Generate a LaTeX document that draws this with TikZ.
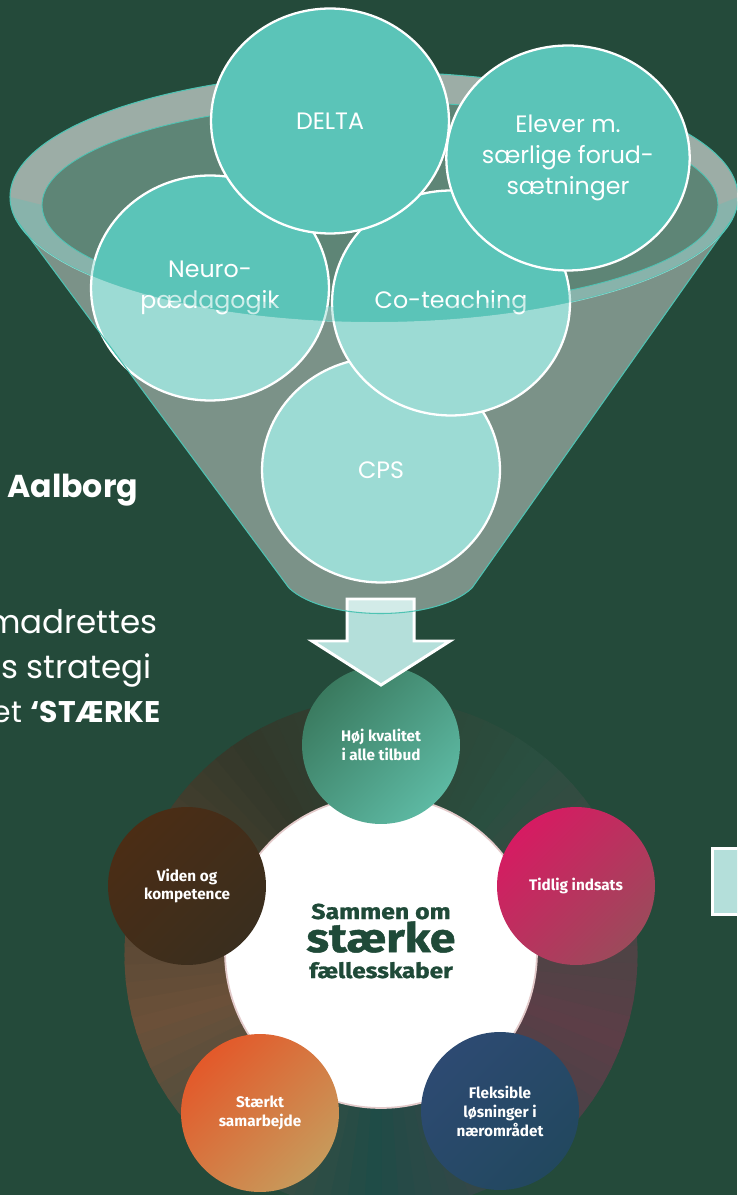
\documentclass[tikz,border=0pt]{standalone}
\usepackage{fontspec}
\setmainfont{Poppins}
\newfontfamily\wheelfont{Fira Sans}
\newfontfamily\hubfont{Fira Sans}[FakeStretch=1.15, BoldFeatures={FakeBold=1.2}]
\usetikzlibrary{shapes.geometric}

\definecolor{bggreen}{HTML}{244A3A}
\definecolor{bubbleteal}{HTML}{5BC4B8}
\definecolor{rimline}{HTML}{4EC3B3}
\definecolor{rimopen}{HTML}{5E8576}
\definecolor{arrowteal}{HTML}{B4DFDA}
\definecolor{hubtext}{HTML}{1F4A38}
\definecolor{hubrim}{HTML}{E3CACA}
\definecolor{ringA}{HTML}{33382A}
\definecolor{ringB}{HTML}{2A4F40}
\definecolor{ringC}{HTML}{5C3E47}
\definecolor{ringD}{HTML}{1F4C47}
\definecolor{ringE}{HTML}{6B5039}
\definecolor{HojA}{HTML}{3A7A5F}
\definecolor{HojB}{HTML}{5DB9A3}
\definecolor{TidA}{HTML}{D61B62}
\definecolor{TidB}{HTML}{9C4A5B}
\definecolor{FleA}{HTML}{2D4A72}
\definecolor{FleB}{HTML}{22485F}
\definecolor{StaA}{HTML}{E3592A}
\definecolor{StaB}{HTML}{C79A5B}
\definecolor{VidA}{HTML}{4B2D15}
\definecolor{VidB}{HTML}{3A2E1E}

\begin{document}
\begin{tikzpicture}[x=0.02cm, y=0.02cm]
  \tikzstyle{bubble}=[ellipse, draw=white, line width=1.3pt, fill=bubbleteal, minimum width=4.76cm, minimum height=4.5cm, inner sep=0pt, text=white, align=center, font=\fontsize{13.5}{17.6}\selectfont];
  \tikzstyle{spoke}=[circle, minimum size=3.16cm, inner sep=0pt, text=white, align=center, font=\wheelfont\bfseries\fontsize{8.7}{10.8}\selectfont];
  \tikzstyle{sidetext}=[text=white, inner sep=0pt, font=\fontsize{18.5}{21}\selectfont];
  \tikzstyle{hubline}=[text=hubtext, inner sep=0pt, anchor=base];

  \useasboundingbox (0,0) rectangle (737,-1195);
  \clip (0,0) rectangle (737,-1195);
  \fill[bggreen] (0,0) rectangle (737,-1195);

  % wheel ring
  \begin{scope}[shift={(381,-955)}]
    \foreach \ca/\cb [count=\s from 0] in {ringA/ringB,ringB/ringC,ringC/ringD,ringD/ringE,ringE/ringA}
      \foreach \t in {0,...,17} {
        \pgfmathtruncatemacro\pct{100-\t*100/18}
        \pgfmathsetmacro\anga{126-\s*72-\t*4}
        \pgfmathsetmacro\angb{\anga-4.5}
        \filldraw[\ca!\pct!\cb, line width=.6pt] (\anga:256) arc[start angle=\anga, end angle=\angb, radius=256] -- (\angb:150) arc[start angle=\angb, end angle=\anga, radius=150] -- cycle;
      }
  \end{scope}

  % hub and spokes
  \node[circle, fill=white, draw=hubrim, line width=1pt, minimum size=6.24cm, inner sep=0pt] (hub) at (381,-952) {};
  \node[hubline, font=\hubfont\bfseries\fontsize{12.3}{14}\selectfont] (hubtop) at (381,-919) {Sammen om};
  \node[hubline, font=\hubfont\bfseries\fontsize{23}{24}\selectfont] (hubmid) at (381,-952) {stærke};
  \node[hubline, font=\hubfont\bfseries\fontsize{12}{14}\selectfont] (hubbot) at (381,-978) {fællesskaber};

  \node[spoke, top color=HojA, bottom color=HojB, shading angle=45] (hoj) at (381,-745) {Høj kvalitet\\i alle tilbud};
  \node[spoke, top color=TidA, bottom color=TidB, shading angle=45] (tidlig) at (576,-886) {Tidlig indsats};
  \node[spoke, top color=FleA, bottom color=FleB, shading angle=45] (fleks) at (500,-1111) {Fleksible\\løsninger i\\nærområdet};
  \node[spoke, top color=StaA, bottom color=StaB, shading angle=45] (staerkt) at (260,-1113) {Stærkt\\samarbejde};
  \node[spoke, top color=VidA, bottom color=VidB, shading angle=45] (viden) at (187,-886) {Viden og\\kompetence};

  % funnel rim (back)
  \fill[white, opacity=.55] (374,-197) ellipse [x radius=364, y radius=125];
  \draw[rimline, line width=.6pt] (374,-197) ellipse [x radius=364, y radius=125];
  \fill[rimopen] (380,-205) ellipse [x radius=338, y radius=103];
  \draw[rimline, line width=.5pt] (380,-205) ellipse [x radius=338, y radius=103];

  % bubbles
  \node[bubble] (cps) at (381,-470) {CPS};
  \node[bubble] (neuro) at (210,-288) {Neuro-\\pædagogik};
  \node[bubble] (coteach) at (451,-303) {Co-teaching};
  \node[bubble] (delta) at (330,-121) {DELTA};
  \node[bubble] (elever) at (568,-158) {Elever m.\\særlige forud-\\sætninger};

  % arrow down into the wheel
  \draw[white, line width=1.7pt, fill=arrowteal, line join=miter] (347,-599) -- (414,-599) -- (414,-641) -- (450,-641) -- (381,-685) -- (312,-641) -- (347,-641) -- cycle;

  % funnel body (front)
  \fill[white, opacity=.4] (15.5,-218.7) -- (289,-588) .. controls (325,-622) and (436,-622) .. (472,-588) -- (732.5,-218.7) arc[start angle=-10, end angle=-170, x radius=364, y radius=125] -- cycle;
  \fill[bubbleteal, opacity=.3] (10,-197) arc[start angle=180, end angle=360, x radius=364, y radius=125] -- (718,-205) arc[start angle=0, end angle=-180, x radius=338, y radius=103] -- cycle;
  \draw[rimline, line width=.6pt] (15.5,-218.7) -- (289,-588) .. controls (325,-622) and (436,-622) .. (472,-588) -- (732.5,-218.7);

  % side box at the right edge
  \node[draw=white, line width=1.7pt, fill=arrowteal, minimum width=1.2cm, minimum height=1.32cm, anchor=north west] (sidebox) at (711,-847) {};

  % cut-off text on the left
  \node[sidetext, anchor=base west, font=\bfseries\fontsize{18}{21}\selectfont] (city) at (7,-497) {Aalborg};
  \node[sidetext, anchor=base east] (lineA) at (158,-633) {madrettes};
  \node[sidetext, anchor=base east] (lineB) at (152,-678) {s strategi};
  \node[sidetext, anchor=base east, font=\fontsize{17}{21}\selectfont] (lineC) at (161,-722) {et {\bfseries ‘STÆRKE}};
\end{tikzpicture}
\end{document}
